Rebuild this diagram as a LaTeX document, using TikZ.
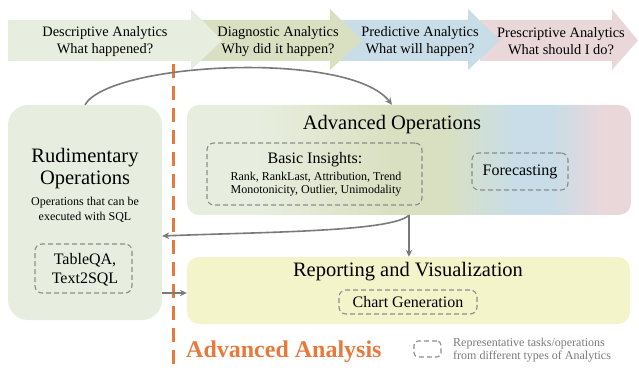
\documentclass[tikz,border=0pt]{standalone}
\usepackage{fontspec}
\setmainfont{Liberation Serif}
\usetikzlibrary{arrows.meta,calc}
\definecolor{cgrn}{HTML}{E8EEDF}
\definecolor{colv}{HTML}{D9E0C1}
\definecolor{cblu}{HTML}{C8DDE8}
\definecolor{cpnk}{HTML}{EAD7DA}
\definecolor{cyel}{HTML}{F4F4CB}
\definecolor{corg}{HTML}{E67A3C}
\definecolor{carr}{HTML}{7A7A7A}
\definecolor{cdash}{HTML}{8C8C8C}
\pgfdeclarehorizontalshading{advshade}{100bp}{color(0bp)=(cgrn); color(33bp)=(cgrn); color(48bp)=(colv); color(54bp)=(colv); color(62bp)=(cblu); color(66bp)=(cblu); color(72bp)=(cpnk); color(100bp)=(cpnk)}
\begin{document}
\begin{tikzpicture}[x=1pt,y=-1pt,
  txt/.style={inner sep=0pt,align=center,text=black},
  chev/.style={draw=none},
  bigbox/.style={draw=none,rounded corners=12pt,inner sep=0pt},
  dbox/.style={draw=cdash,dashed,dash pattern=on 5pt off 3pt,line width=1.1pt,rounded corners=7pt,inner sep=0pt},
  arr/.style={draw=carr,line width=1.6pt,-{Stealth[length=7pt,width=6.5pt]}},
  fchev/.style={font=\fontsize{14.4}{17}\selectfont},
  ftitle/.style={font=\fontsize{20.5}{22}\selectfont},
  fmid/.style={font=\fontsize{16}{19}\selectfont},
  fsmall/.style={font=\fontsize{12}{14.5}\selectfont}]
\useasboundingbox (0,0) rectangle (639,371);
% chevrons (right to left so earlier overlap later)
\fill[cpnk] (480,20) -- (612,20) -- (612,9) -- (638,40.5) -- (612,70) -- (612,61) -- (480,61) -- cycle;
\fill[cblu] (340,20) -- (468,20) -- (468,9) -- (500,40.5) -- (468,70) -- (468,61) -- (340,61) -- cycle;
\fill[colv] (200,20) -- (330,20) -- (330,9) -- (362,40.5) -- (330,70) -- (330,61) -- (200,61) -- cycle;
\fill[cgrn] (8,20) -- (191,20) -- (191,9) -- (222,40.5) -- (191,70) -- (191,61) -- (8,61) -- cycle;
\node[txt,fchev] (t1) at (105,41.5) {Descriptive Analytics\\What happened?};
\node[txt,fchev] (t2) at (278,41.5) {Diagnostic Analytics\\Why did it happen?};
\node[txt,fchev] (t3) at (420,41.5) {Predictive Analytics\\What will happen?};
\node[txt,fchev] (t4) at (561,41.5) {Prescriptive Analytics\\What should I do?};
% orange divider
\draw[corg,line width=3pt,dash pattern=on 14pt off 8pt] (173,64) -- (173,371);
% main boxes
\node[bigbox,fill=cgrn,rounded corners=20pt,minimum width=154pt,minimum height=215pt] (rud) at (85,212.5) {};
\node[bigbox,shading=advshade,minimum width=444pt,minimum height=110pt] (adv) at (409,160) {};
\node[bigbox,fill=cyel,minimum width=443pt,minimum height=67pt] (rep) at (408.5,290.5) {};
% rudimentary texts
\node[txt,ftitle] (rudt) at (85,169) {Rudimentary\\Operations};
\node[txt,fsmall,font=\fontsize{12}{15}\selectfont] (rudd) at (85,209.5) {Operations that can be\\executed with SQL};
\node[dbox,minimum width=97pt,minimum height=49pt] (tq) at (83.5,268.5) {};
\node[txt,fmid] (tqt) at (85,269.5) {TableQA,\\Text2SQL};
% advanced ops texts
\node[txt,ftitle] (advt) at (392,125) {Advanced Operations};
\node[dbox,minimum width=215pt,minimum height=62pt] (bi) at (314.5,174) {};
\node[txt,fmid] (bit) at (315,160) {Basic Insights:};
\node[txt,font=\fontsize{12}{13}\selectfont] (bil) at (316,184) {Rank, RankLast, Attribution, Trend\\Monotonicity, Outlier, Unimodality};
\node[dbox,minimum width=96pt,minimum height=37pt] (fc) at (520,171.5) {};
\node[txt,fmid] (fct) at (520,172) {Forecasting};
% reporting texts
\node[txt,ftitle] (rept) at (408,272) {Reporting and Visualization};
\node[dbox,minimum width=138pt,minimum height=24pt] (cg) at (408,302) {};
\node[txt,fmid] (cgt) at (408,302) {Chart Generation};
% bottom labels
\node[txt,anchor=west,text=corg,font=\fontsize{24}{26}\selectfont\bfseries] (aa) at (186,352) {Advanced Analysis};
\node[dbox,rounded corners=4pt,minimum width=27pt,minimum height=16pt] (leg) at (427.5,349) {};
\node[txt,anchor=west,align=left,text=carr,font=\fontsize{12}{13}\selectfont] (legt) at (453,350.5) {Representative tasks/operations\\from different types of Analytics};
% connectors
\draw[arr] (rud.north) .. controls (110,62) and (350,50) .. ([xshift=-17pt]adv.north);
\draw[arr] (adv.south) -- (adv.south |- rep.north);
\draw[arr] (adv.south) .. controls (392,232) and (260,232) .. ([yshift=-23.5pt]rud.east);
\draw[arr] ([yshift=-80.5pt]rud.east) -- ([yshift=-2.5pt]rep.west);
\end{tikzpicture}
\end{document}
